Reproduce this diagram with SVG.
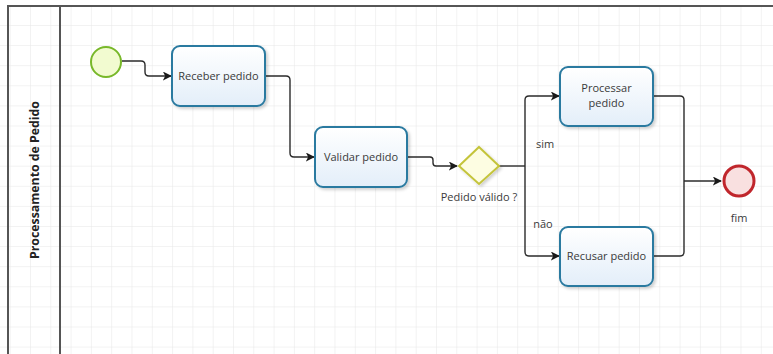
<svg xmlns="http://www.w3.org/2000/svg" width="773" height="354" viewBox="0 0 773 354">
<style>
.task rect{fill:url(#tg);stroke:#2a7aa0;stroke-width:2;filter:url(#sh)}
.lbl{font-family:"Open Sans","Liberation Sans",sans-serif;font-size:11px;fill:#3a3a3a;text-anchor:middle}
.conn path{fill:none;stroke:#2b2b2b;stroke-width:1.4;marker-end:url(#arr)}
.conn path.plain{marker-end:none}
.frame{stroke:#555;stroke-width:2;fill:none}
</style>
<defs>
<pattern id="grid" patternUnits="userSpaceOnUse" x="9.7" y="4.9" width="20.3" height="20.1">
<path d="M0 0V20.1M0 0H20.3" fill="none" stroke="#e6e6e6" stroke-width="1"/>
</pattern>
<linearGradient id="tg" x1="0" y1="0" x2="0" y2="1">
<stop offset="0" stop-color="#ffffff"/>
<stop offset="1" stop-color="#e3eef9"/>
</linearGradient>
<filter id="sh" x="-10%" y="-10%" width="125%" height="130%">
<feDropShadow dx="2" dy="2" stdDeviation="1.5" flood-color="#000" flood-opacity="0.18"/>
</filter>
<marker id="arr" viewBox="0 0 10 10" refX="9" refY="5" markerWidth="9" markerHeight="9" markerUnits="userSpaceOnUse" orient="auto">
<path d="M0 0L10 5L0 10L2.5 5Z" fill="#1a1a1a"/>
</marker>
</defs>
<rect x="0" y="0" width="773" height="354" fill="#fff"/>
<rect x="0" y="6" width="773" height="348" fill="url(#grid)"/>
<path class="frame" d="M8 354V6H773M60 6V354"/>
<text x="0" y="0" transform="translate(39 180) rotate(-90)" font-family="'Open Sans','Liberation Sans',sans-serif" font-size="12.3" font-weight="bold" fill="#222" text-anchor="middle">Processamento de Pedido</text>

<g class="conn" id="connectors">
<path d="M122 61H141Q145 61 145 65V72Q145 76 149 76H171"/>
<path d="M265 76H286Q290 76 290 80V153Q290 157 294 157H314"/>
<path d="M407 157H430Q433 157 433 160V163Q433 166 436 166H457"/>
<path class="plain" d="M499 166H525"/>
<path d="M525 166V100Q525 96 529 96H559"/>
<path d="M525 166V252Q525 256 529 256H559"/>
<path class="plain" d="M653 96H680Q684 96 684 100V181"/>
<path class="plain" d="M653 256H680Q684 256 684 252V181"/>
<path d="M684 181H721"/>
</g>

<g id="start">
<circle cx="106" cy="62" r="15" fill="#f2fbd0" stroke="#78b829" stroke-width="2"/>
</g>
<g id="receber" class="task">
<rect x="172" y="46" width="93" height="60" rx="8"/>
<text class="lbl" x="218.5" y="80">Receber pedido</text>
</g>
<g id="validar" class="task">
<rect x="315" y="127" width="92" height="60" rx="8"/>
<text class="lbl" x="361" y="161">Validar pedido</text>
</g>
<g id="gateway">
<path d="M479 147L499 166L479 184L459 166Z" fill="#fdfde2" stroke="#c4c43a" stroke-width="2" filter="url(#sh)"/>
<text class="lbl" x="479" y="201">Pedido válido ?</text>
</g>
<g id="processar" class="task">
<rect x="560" y="67" width="93" height="59" rx="8"/>
<text class="lbl" x="606.5" y="92">Processar</text>
<text class="lbl" x="606.5" y="107">pedido</text>
</g>
<g id="recusar" class="task">
<rect x="560" y="227" width="93" height="59" rx="8"/>
<text class="lbl" x="606.5" y="260">Recusar pedido</text>
</g>
<g id="end">
<circle cx="739" cy="181" r="15" fill="#f9e0e0" stroke="#c0262c" stroke-width="3"/>
<text class="lbl" x="739" y="222">fim</text>
</g>
<g id="edge-labels">
<text class="lbl" x="545" y="148">sim</text>
<text class="lbl" x="543" y="228">não</text>
</g>
</svg>
